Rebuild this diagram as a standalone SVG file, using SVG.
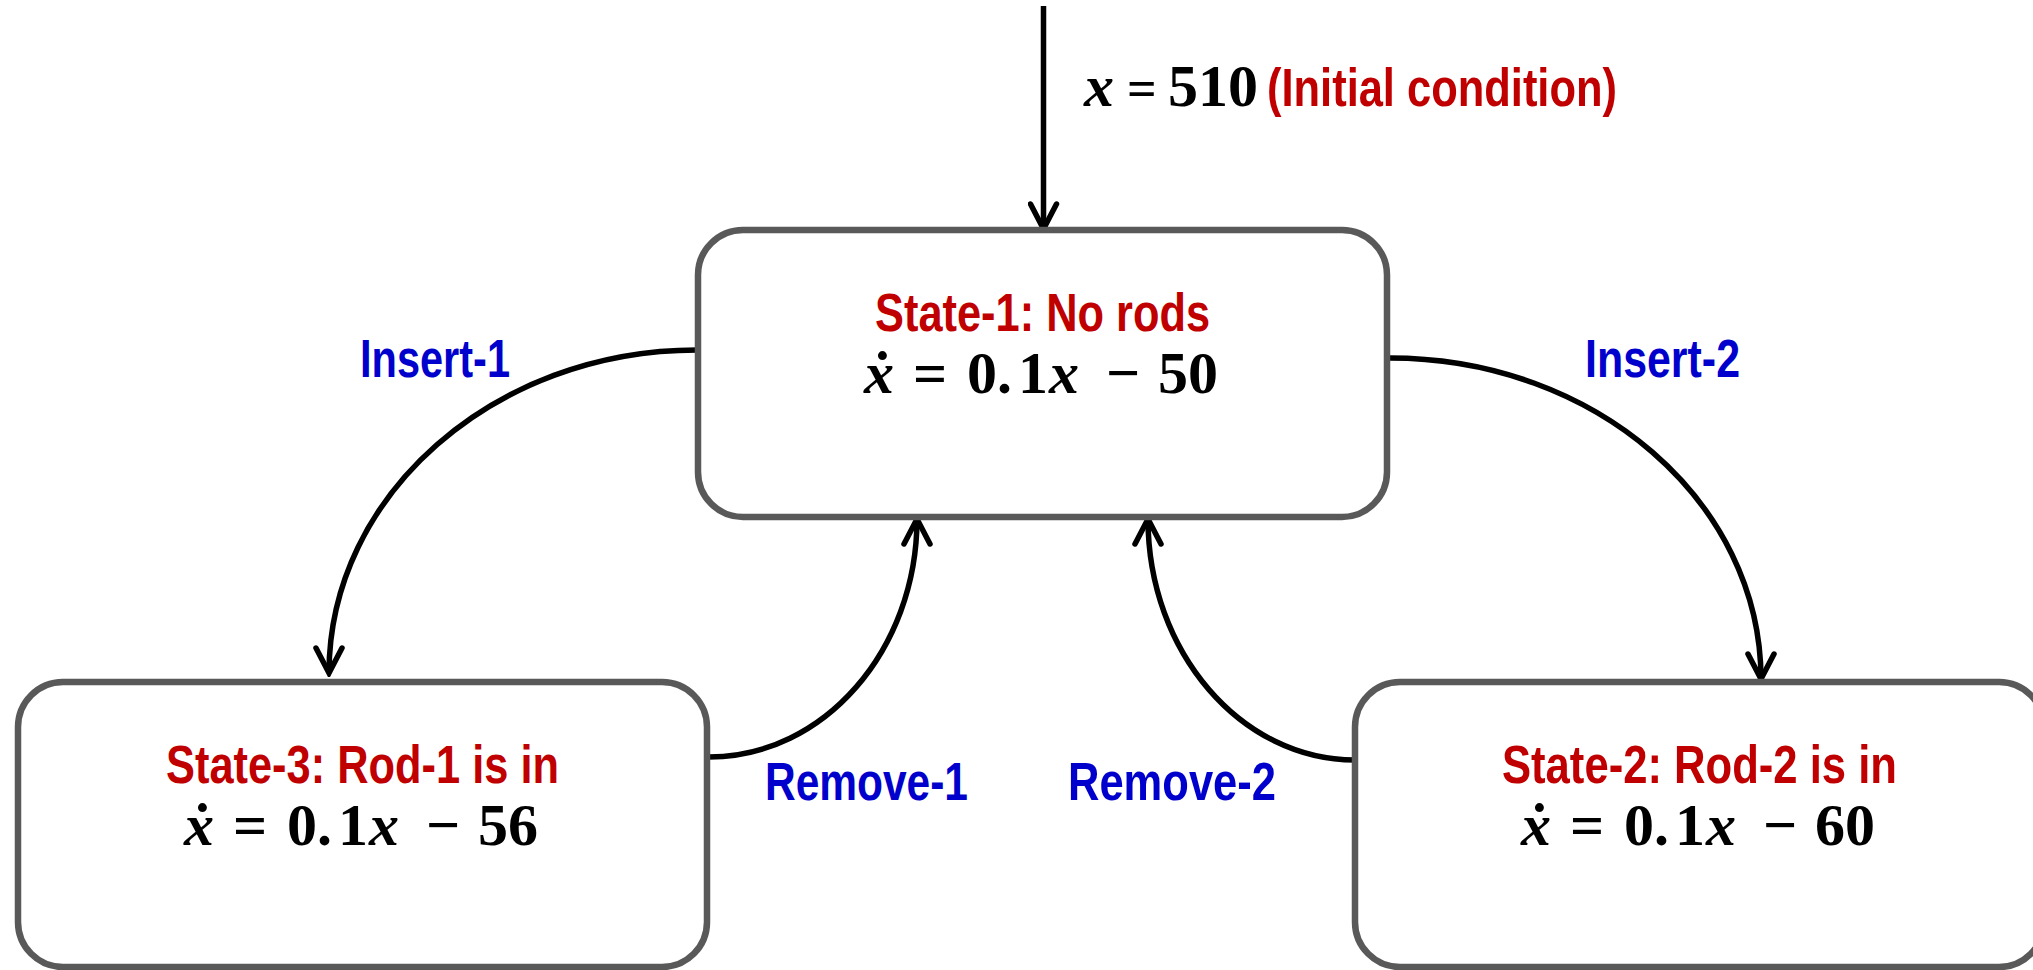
<svg xmlns="http://www.w3.org/2000/svg" width="2033" height="970" viewBox="0 0 2033 970">
<style>
.box{fill:#fff;stroke:#595959;stroke-width:6.5}
.title{font-family:"Liberation Sans Narrow","Liberation Sans",Arial,sans-serif;font-weight:bold;font-size:53px;fill:#C00000}
.lbl{font-family:"Liberation Sans Narrow","Liberation Sans",Arial,sans-serif;font-weight:bold;font-size:53px;fill:#0000CC}
.eq{font-family:"Liberation Serif","DejaVu Serif",serif;font-weight:bold;font-size:60px;fill:#000}
.it{font-style:italic}
.conn{fill:none;stroke:#000;stroke-width:5.5}
</style>
<defs>
<marker id="arr" markerUnits="userSpaceOnUse" viewBox="-30 -16 34 32" refX="0" refY="0" markerWidth="34" markerHeight="32" orient="auto">
<path d="M-25,-13 L0,0 L-25,13" fill="none" stroke="#000" stroke-width="5.5" stroke-linecap="round" stroke-linejoin="miter"/>
</marker>
</defs>
<rect width="2033" height="970" fill="#fff"/>
<g id="connectors">
<path class="conn" d="M1043.5,6 L1043.5,229" marker-end="url(#arr)"/>
<path class="conn" d="M697,350 C494,350 329,495 329,673" marker-end="url(#arr)"/>
<path class="conn" d="M1390,358 C1595,358 1761,502 1761,679" marker-end="url(#arr)"/>
<path class="conn" d="M709,757 C824,757 917,650 917,519" marker-end="url(#arr)"/>
<path class="conn" d="M1355,760 C1241,760 1148,652 1148,519" marker-end="url(#arr)"/>
</g>
<g id="init-label">
<text class="eq" y="106" font-size="58"><tspan class="it" x="1084">x</tspan><tspan x="1127" font-size="52">=</tspan><tspan x="1168">510</tspan></text>
<text class="title" x="1267" y="106" textLength="350" lengthAdjust="spacingAndGlyphs">(Initial condition)</text>
</g>
<g id="state1">
<rect class="box" x="698" y="230" width="689" height="287" rx="45"/>
<text class="title" x="1042.5" y="331" text-anchor="middle" textLength="335" lengthAdjust="spacingAndGlyphs">State-1: No rods</text>
<text class="eq" y="393"><tspan class="it" x="864">ẋ</tspan><tspan x="913">=</tspan><tspan x="967">0</tspan><tspan x="997">.</tspan><tspan x="1018">1</tspan><tspan class="it" x="1049">x</tspan><tspan x="1106">−</tspan><tspan x="1158">50</tspan></text>
</g>
<g id="state3">
<rect class="box" x="18" y="682" width="689" height="285" rx="45"/>
<text class="title" x="362.5" y="783" text-anchor="middle" textLength="393" lengthAdjust="spacingAndGlyphs">State-3: Rod-1 is in</text>
<text class="eq" y="845"><tspan class="it" x="184">ẋ</tspan><tspan x="233">=</tspan><tspan x="287">0</tspan><tspan x="317">.</tspan><tspan x="338">1</tspan><tspan class="it" x="369">x</tspan><tspan x="426">−</tspan><tspan x="478">56</tspan></text>
</g>
<g id="state2">
<rect class="box" x="1355" y="682" width="689" height="285" rx="45"/>
<text class="title" x="1699.5" y="783" text-anchor="middle" textLength="395" lengthAdjust="spacingAndGlyphs">State-2: Rod-2 is in</text>
<text class="eq" y="845"><tspan class="it" x="1521">ẋ</tspan><tspan x="1570">=</tspan><tspan x="1624">0</tspan><tspan x="1654">.</tspan><tspan x="1675">1</tspan><tspan class="it" x="1706">x</tspan><tspan x="1763">−</tspan><tspan x="1815">60</tspan></text>
</g>
<g id="labels">
<text class="lbl" x="360" y="377" textLength="150" lengthAdjust="spacingAndGlyphs">Insert-1</text>
<text class="lbl" x="1585" y="377" textLength="155" lengthAdjust="spacingAndGlyphs">Insert-2</text>
<text class="lbl" x="765" y="800" textLength="203" lengthAdjust="spacingAndGlyphs">Remove-1</text>
<text class="lbl" x="1068" y="800" textLength="208" lengthAdjust="spacingAndGlyphs">Remove-2</text>
</g>
</svg>
